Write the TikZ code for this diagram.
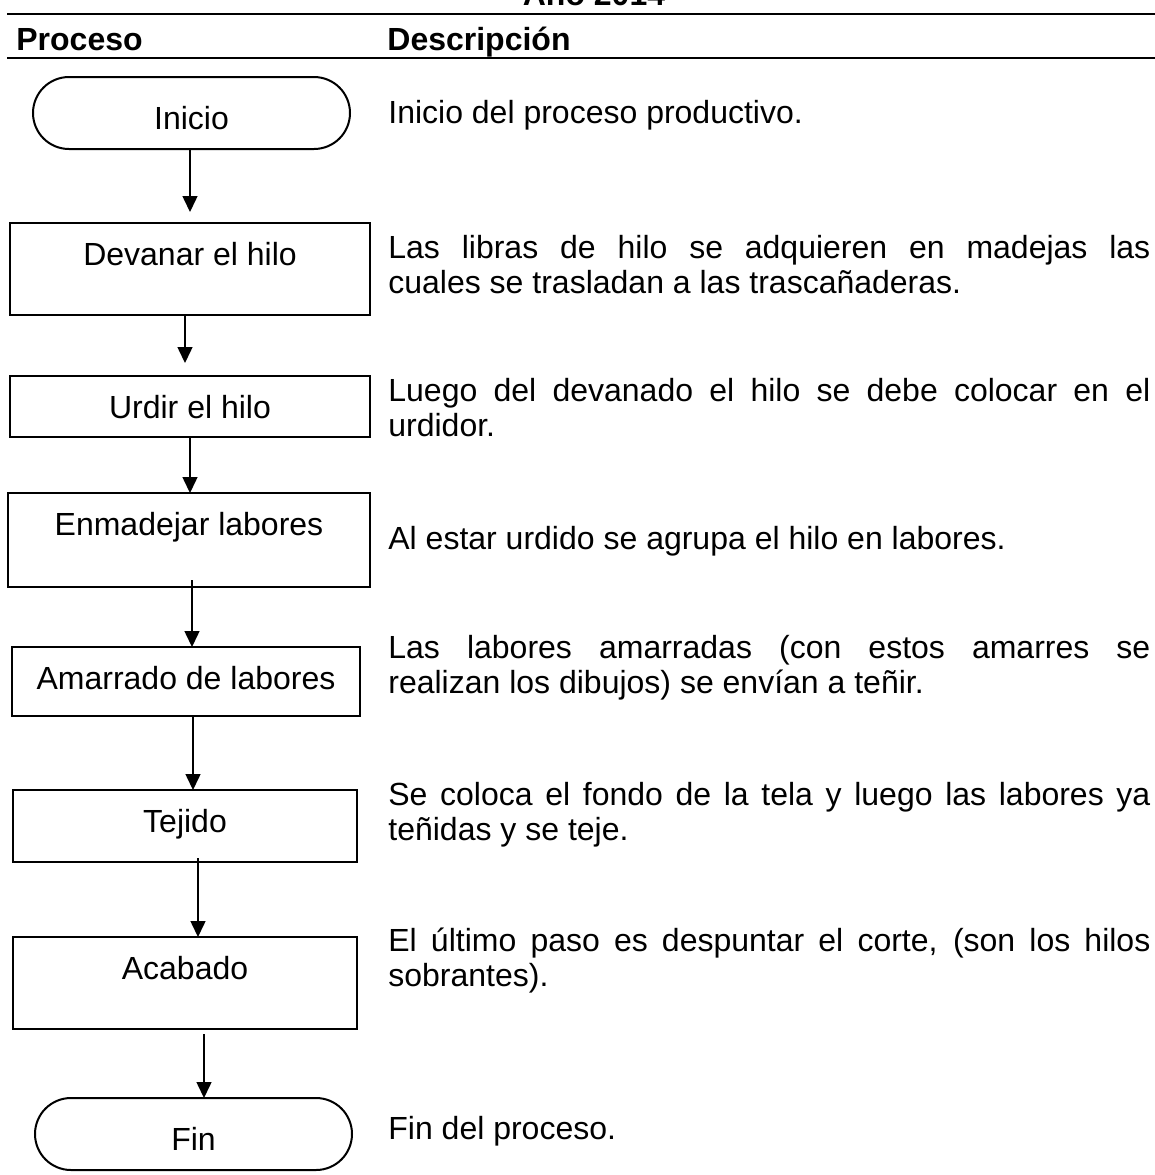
\documentclass[tikz,border=0pt]{standalone}
\usepackage{fontspec}
\setmainfont{Liberation Sans}
\usetikzlibrary{
  arrows.meta,
  calc,
  positioning,
  shapes.misc,
}
\tikzset{
  >={Triangle[width=7.5pt,length=8pt]},
  paso/.style={draw,rectangle,line width=1pt,inner sep=0pt,outer sep=0pt,text height=21pt},
  limite/.style={draw,rounded rectangle,line width=1pt,inner sep=0pt,outer sep=0pt,text height=26.25pt,text depth=9.75pt,minimum width=158.5pt},
  desc/.style={anchor=base west,text width=381pt,align=justify,inner sep=0pt},
  flecha/.style={->,line width=0.75pt},
  regla/.style={line width=1.2pt},
}

\begin{document}
\begin{tikzpicture}[x=0.5pt,y=-0.5pt,font=\fontsize{16pt}{17.5pt}\selectfont]

        \useasboundingbox (0,0) rectangle (1155,1175);

        % encabezado
        \node[anchor=base,inner sep=0pt,font=\fontsize{16pt}{17pt}\selectfont\bfseries]    (anio)    at (594,5)    {Año 2014};
        \draw[regla] (7,14) -- (1155,14);
        \node[anchor=base west,inner sep=0pt,font=\fontsize{16pt}{17pt}\selectfont\bfseries]    (hproc)    at (16,50)    {Proceso};
        \node[anchor=base west,inner sep=0pt,font=\fontsize{16pt}{17pt}\selectfont\bfseries]    (hdesc)    at (387,50)    {Descripción};
        \draw[regla] (7,58) -- (1155,58);

        % diagrama
        \node[limite]    (ini)    at (191.5,113)    {Inicio};
        \node[paso,minimum width=180pt,text depth=25pt,xshift=-0.75pt]    (dev)    [below=37pt of ini]    {Devanar el hilo};
        \node[paso,minimum width=180pt,text depth=9.5pt]    (urd)    [below=30.5pt of dev]    {Urdir el hilo};
        \node[paso,minimum width=181pt,text depth=26pt,xshift=-0.5pt]    (enm)    [below=28pt of urd]    {Enmadejar labores};
        \node[paso,minimum width=174pt,text depth=13.5pt,xshift=-1.5pt]    (ama)    [below=30pt of enm]    {Amarrado de labores};
        \node[paso,minimum width=172pt,text depth=15pt,xshift=-0.5pt]    (tej)    [below=37pt of ama]    {Tejido};
        \node[paso,minimum width=172pt,text depth=25pt]    (aca)    [below=37.5pt of tej]    {Acabado};
        \node[limite,xshift=4.25pt]    (fin)    [below=34.5pt of aca]    {Fin};

        \draw[flecha,shorten >=5.5pt] ([xshift=-0.75pt]ini.south) -- (dev.north);
        \draw[flecha,shorten >=6.5pt] ([xshift=-2.5pt]dev.south) -- ([xshift=-2.5pt]urd.north);
        \draw[flecha] (urd.south) -- ([xshift=0.5pt]enm.north);
        \draw[flecha] ([xshift=1.5pt,yshift=3.5pt]enm.south) -- ([xshift=3pt]ama.north);
        \draw[flecha] ([xshift=3.5pt]ama.south) -- ([xshift=4pt]tej.north);
        \draw[flecha] ([xshift=6.5pt,yshift=2pt]tej.south) -- ([xshift=6.5pt]aca.north);
        \draw[flecha,shorten <=2.5pt] ([xshift=9.5pt]aca.south) -- ([xshift=5.25pt]fin.north);

        % descripciones
        \node[desc]    (dini)    at (388,123)    {Inicio del proceso productivo.};
        \node[desc]    (ddev)    at (388,258)    {Las libras de hilo se adquieren en madejas las\linebreak cuales se trasladan a las trascañaderas.};
        \node[desc]    (durd)    at (388,401)    {Luego del devanado el hilo se debe colocar en el\linebreak urdidor.};
        \node[desc]    (denm)    at (388,549)    {Al estar urdido se agrupa el hilo en labores.};
        \node[desc]    (dama)    at (388,658)    {Las labores amarradas (con estos amarres se\linebreak realizan los dibujos) se envían a teñir.};
        \node[desc]    (dtej)    at (388,805)    {Se coloca el fondo de la tela y luego las labores ya\linebreak teñidas y se teje.};
        \node[desc]    (daca)    at (388,951)    {El último paso es despuntar el corte, (son los hilos\linebreak sobrantes).};
        \node[desc]    (dfin)    at (388,1139)    {Fin del proceso.};

    \end{tikzpicture}
\end{document}
